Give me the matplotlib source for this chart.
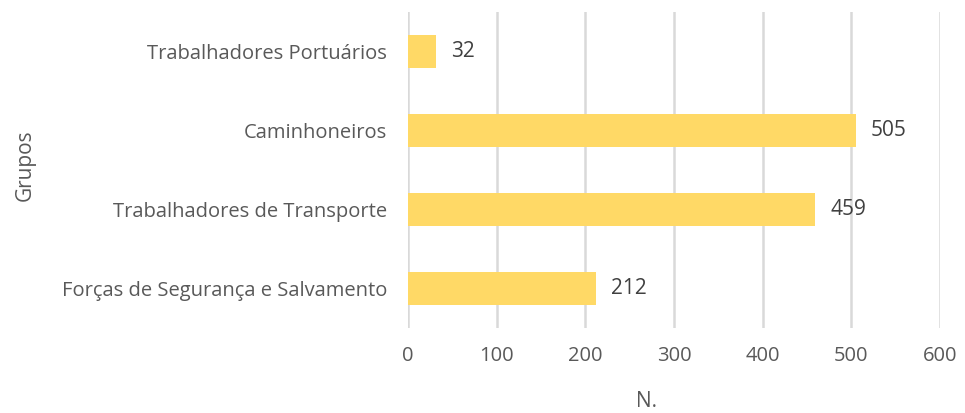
import matplotlib.pyplot as plt

grupos = ['Forças de Segurança e Salvamento', 'Trabalhadores de Transporte',
          'Caminhoneiros', 'Trabalhadores Portuários']
valores = [212, 459, 505, 32]
ticks = [0, 100, 200, 300, 400, 500, 600]

plt.rcParams['font.family'] = ['Open Sans', 'DejaVu Sans']

fig = plt.figure(figsize=(9.65, 4.13), dpi=100)
ax = fig.add_axes([0.4228, 0.206, 0.5513, 0.765])

ax.barh(range(len(grupos)), valores, height=0.41, color='#FFD966', zorder=3)

# value labels next to each bar
for i, v in enumerate(valores):
    ax.text(v + 17, i, str(v), va='center', ha='left', fontsize=15, color='#404040')

ax.set_yticks(range(len(grupos)))
ax.set_yticklabels(grupos)
ax.set_xticks(ticks)
ax.set_xlim(0, 600)
ax.set_ylim(-0.5, 3.5)

ax.grid(axis='x', color='#d9d9d9', linewidth=1.8, zorder=0)
for s in ax.spines.values():
    s.set_visible(False)
ax.tick_params(length=0, labelsize=14.5, labelcolor='#595959')
ax.tick_params(axis='x', pad=13)
ax.tick_params(axis='y', pad=15)

ax.set_xlabel('N.', fontsize=15, color='#595959')
ax.xaxis.set_label_coords(0.449, -0.20)
ax.set_ylabel('Grupos', fontsize=15, color='#595959')
ax.yaxis.set_label_coords(-0.70, 0.516)

fig.savefig('out.png', dpi=100)
